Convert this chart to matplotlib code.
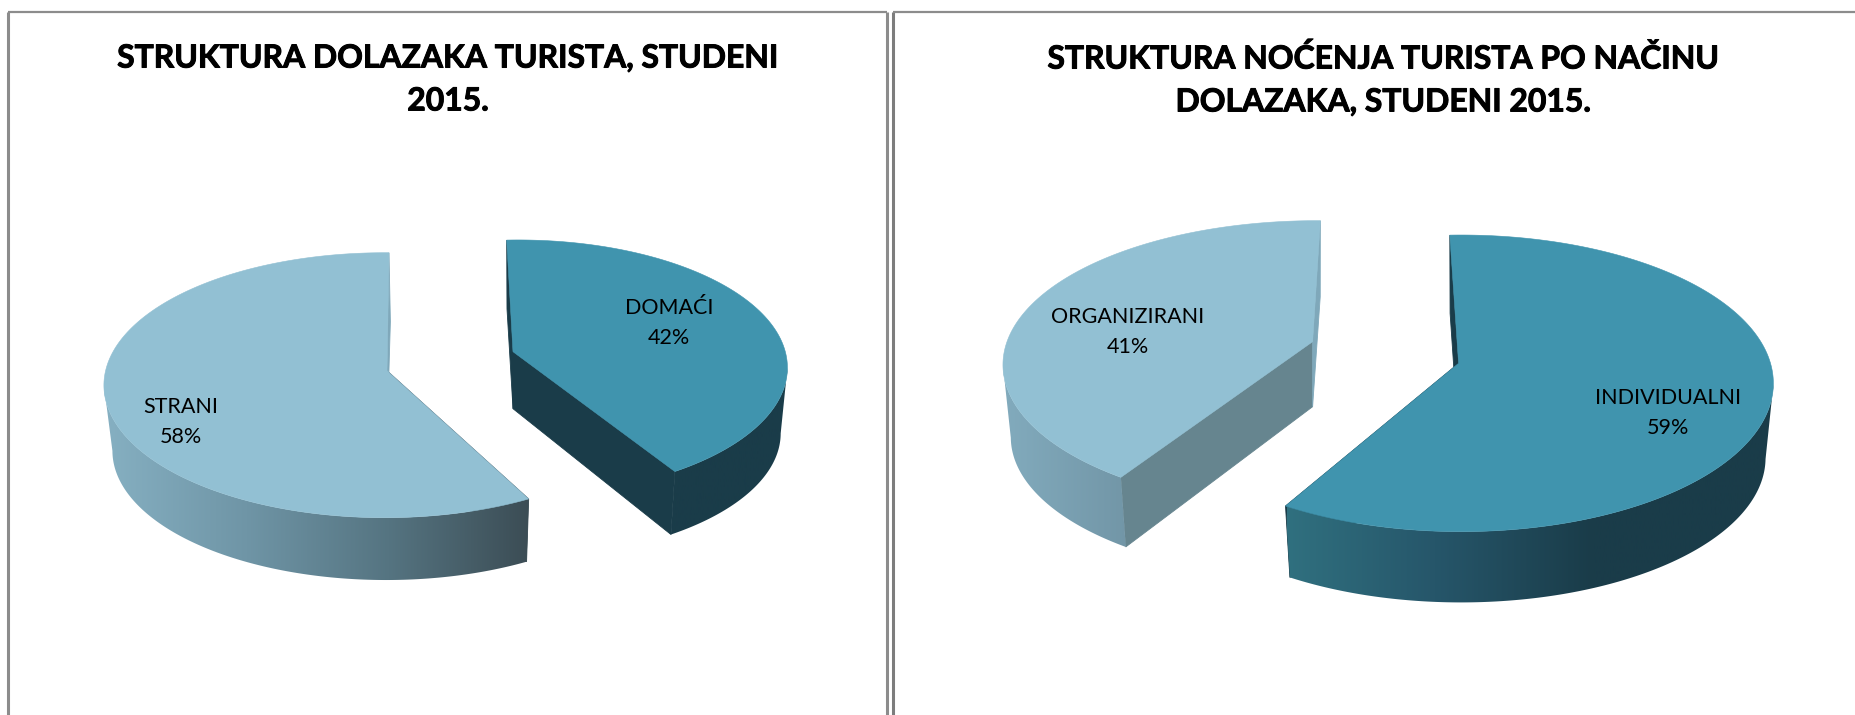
import numpy as np
import matplotlib
matplotlib.use('Agg')
import matplotlib.pyplot as plt
import matplotlib.patheffects as pe
from matplotlib.colors import LinearSegmentedColormap
from matplotlib.patches import Polygon

plt.rcParams['font.family'] = ['Lato', 'DejaVu Sans']

# Chart data
title_left = 'STRUKTURA DOLAZAKA TURISTA, STUDENI\n2015.'
labels_left = ['DOMAĆI', 'STRANI']
values_left = [42, 58]

title_right = 'STRUKTURA NOĆENJA TURISTA PO NAČINU\nDOLAZAKA, STUDENI 2015.'
labels_right = ['INDIVIDUALNI', 'ORGANIZIRANI']
values_right = [59, 41]

LIGHT = '#92c0d3'
DARK = '#4094ae'

# Function to project a point of the unit pie (angle clockwise from the top) on the picture
def rim_points(angles, s, scale=1.0, drop=0.0):
    t = np.radians(angles + s['rot'])
    u, v = np.sin(t), np.cos(t)
    w = 1 + s['k'] * v
    x = s['rim_x'] + scale * s['a'] * u / w
    y = s['cy'] + drop - scale * s['b'] * v / w
    return x, y

# Function to draw one exploded slice, going clockwise from start to start + sweep degrees
def draw_slice(ax, start, sweep, s):
    angles = np.linspace(start, start + sweep, 400)
    tx, ty = rim_points(angles, s)
    bx, by = rim_points(angles, s, 0.975, s['depth'])
    bx = bx + s.get('low_dx', 0)
    apex = (s['apex_x'], s['cy'])
    apex_low = (s['apex_x'], s['cy'] + s['apex_depth'])

    # the two cut faces
    ax.add_patch(Polygon([(tx[0], ty[0]), (bx[0], by[0]), apex_low, apex],
                         fc=s['start_wall'], ec=s['start_wall'], lw=0.6, zorder=2))
    ax.add_patch(Polygon([(tx[-1], ty[-1]), (bx[-1], by[-1]), apex_low, apex],
                         fc=s['end_wall'], ec=s['end_wall'], lw=0.6, zorder=2))

    # outer wall, only the part of the rim that faces the viewer, gradient from left to right
    front = np.cos(np.radians(angles + s['rot'])) <= -s['k']
    wall_xy = np.column_stack([np.r_[tx[front], bx[front][::-1]], np.r_[ty[front], by[front][::-1]]])
    wall = Polygon(wall_xy, transform=ax.transData, fc='none', lw=0, zorder=3)
    ax.add_patch(wall)
    cmap = LinearSegmentedColormap.from_list('wall', s['wall_colors'])
    grad = ax.imshow(np.linspace(0, 1, 256).reshape(1, -1), cmap=cmap, aspect='auto',
                     extent=[s['grad_x'][0], s['grad_x'][1], 715, 0], zorder=3)
    grad.set_clip_path(wall)

    # top face
    ax.add_patch(Polygon(np.column_stack([np.r_[tx, apex[0]], np.r_[ty, apex[1]]]),
                         fc=s['face'], ec=s['face'], lw=0.4, zorder=4))


fig = plt.figure(figsize=(18.56, 7.15), dpi=100)
ax = fig.add_axes([0, 0, 1, 1])

domaci = dict(face=DARK, rim_x=518.3, apex_x=513, cy=351.7, a=267, b=125.7, k=0.125, rot=-2.8,
              depth=66, apex_depth=57, start_wall='#1a3c49', end_wall='#1a3c49',
              wall_colors=['#1a3c49', '#1a3c49'], grad_x=(500, 800))
strani = dict(face=LIGHT, rim_x=384.6, apex_x=387, cy=370.7, a=279, b=130.9, k=0.1095, rot=1.0,
              depth=66, apex_depth=66, start_wall='#3d4f57', end_wall='#7fa8ba', low_dx=1.5,
              wall_colors=['#86b0c2', '#6f95a6', '#557481', '#3b4c54'], grad_x=(104, 532))
individualni = dict(face=DARK, rim_x=1461, apex_x=1458.6, cy=363.3, a=309.5, b=145.6, k=0.135, rot=-2.35,
                    depth=75, apex_depth=75, start_wall='#1a3c49', end_wall='#1a3c49',
                    wall_colors=[(0, '#30707f'), (0.3, '#26566a'), (0.62, '#1a3c49'), (1, '#1a3c49')],
                    grad_x=(1287, 1780))
organizirani = dict(face=LIGHT, rim_x=1316.6, apex_x=1312.6, cy=341.7, a=309.6, b=140.4, k=0.16, rot=0.8,
                    depth=73, apex_depth=65, start_wall='#66858f', end_wall='#7fa8ba',
                    wall_colors=['#82abbd', '#7296a7'], grad_x=(1003, 1128))

# Left pie: DOMAĆI from the top clockwise, STRANI the rest
sweep_dom = values_left[0] / sum(values_left) * 360
draw_slice(ax, 0, sweep_dom, domaci)
draw_slice(ax, sweep_dom, values_left[1] / sum(values_left) * 360, strani)

# Right pie: INDIVIDUALNI from the top clockwise, ORGANIZIRANI the rest
sweep_ind = values_right[0] / sum(values_right) * 360
draw_slice(ax, 0, sweep_ind, individualni)
draw_slice(ax, sweep_ind, values_right[1] / sum(values_right) * 360, organizirani)

# Panel borders
border = '#8c8c8c'
ax.plot([8.5, 8.5], [715, 12], color=border, lw=2.2, zorder=5, solid_capstyle='butt')
ax.plot([8.5, 887.5], [12, 12], color=border, lw=1.6, zorder=5, solid_capstyle='butt')
ax.plot([887.5, 887.5], [12, 715], color=border, lw=2.2, zorder=5, solid_capstyle='butt')
ax.plot([893.5, 893.5], [715, 12], color='#7d7d7d', lw=2.2, zorder=5, solid_capstyle='butt')
ax.plot([893.5, 1856], [12, 12], color=border, lw=1.6, zorder=5, solid_capstyle='butt')

# Titles, a thin stroke makes them as heavy as the original
thick = [pe.withStroke(linewidth=0.7, foreground='black')]
ax.text(448, 79.5, title_left, ha='center', va='center', fontsize=22.95, fontweight='bold',
        linespacing=1.58, color='black', zorder=6, path_effects=thick)
ax.text(1383.5, 79.5, title_right, ha='center', va='center', fontsize=22.95, fontweight='bold',
        linespacing=1.58, color='black', zorder=6, path_effects=thick)

# Slice labels
label_pos_left = [(669, 323), (180.5, 422)]
label_pos_right = [(1668, 413), (1128, 332)]
for name, val, pos in zip(labels_left + labels_right, values_left + values_right,
                          label_pos_left + label_pos_right):
    ax.text(pos[0], pos[1], f'{name}\n{val}%', ha='center', va='center', fontsize=15.5,
            linespacing=1.62, color='black', zorder=6)

ax.set_xlim(0, 1856)
ax.set_ylim(715, 0)
ax.axis('off')
fig.savefig('out.png', dpi=100, facecolor='white')
